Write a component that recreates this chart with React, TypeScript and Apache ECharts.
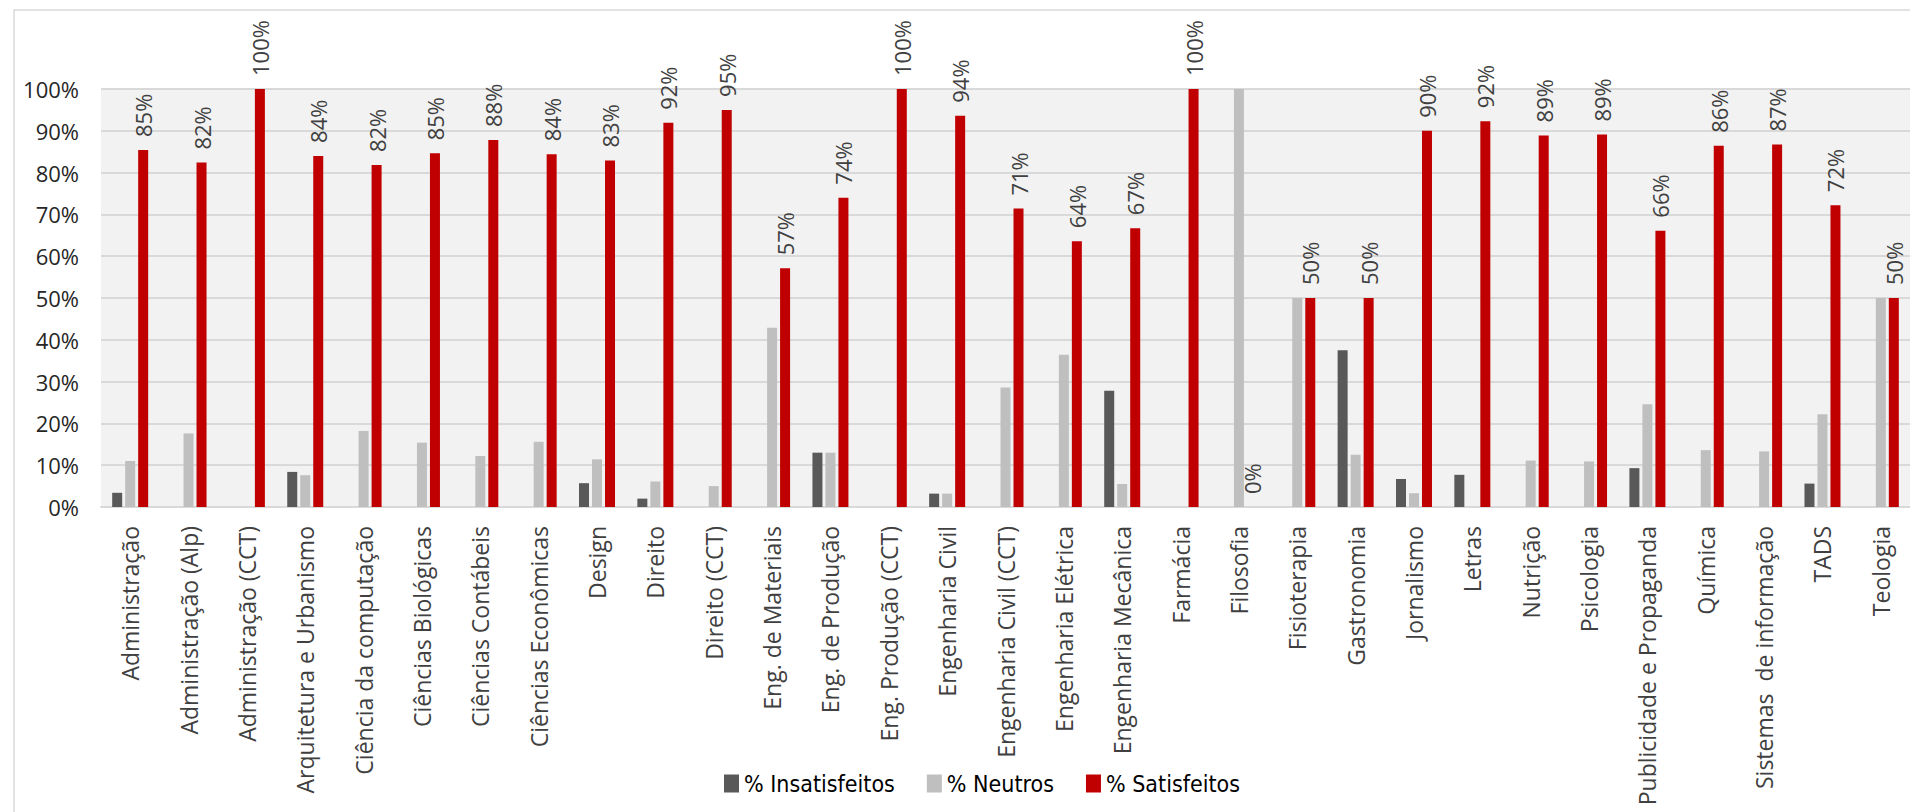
import React, { useEffect, useRef } from "react";
import * as echarts from "echarts";

const categories = [
  "Administração", "Administração (Alp)", "Administração (CCT)", "Arquitetura e Urbanismo",
  "Ciência da computação", "Ciências Biológicas", "Ciências Contábeis", "Ciências Econômicas",
  "Design", "Direito", "Direito (CCT)", "Eng. de Materiais", "Eng. de Produção",
  "Eng. Produção (CCT)", "Engenharia Civil", "Engenharia Civil (CCT)", "Engenharia Elétrica",
  "Engenharia Mecânica", "Farmácia", "Filosofia", "Fisioterapia", "Gastronomia", "Jornalismo",
  "Letras", "Nutrição", "Psicologia", "Publicidade e Propaganda", "Química",
  "Sistemas  de informação", "TADS", "Teologia",
];

const insatisfeitos = [3.4, 0, 0, 8.4, 0, 0, 0, 0, 5.7, 2.0, 0, 0, 13.0, 0, 3.2, 0, 0, 27.8, 0, 0, 0, 37.5, 6.7, 7.7, 0, 0, 9.3, 0, 0, 5.6, 0];
const neutros = [11.0, 17.6, 0, 7.6, 18.2, 15.4, 12.2, 15.6, 11.4, 6.1, 5.0, 42.9, 13.0, 0, 3.2, 28.6, 36.4, 5.5, 0, 100, 50, 12.5, 3.3, 0, 11.1, 10.9, 24.6, 13.6, 13.3, 22.2, 50];
const satisfeitos = [85.4, 82.4, 100, 84.0, 81.8, 84.6, 87.8, 84.4, 82.9, 91.9, 95.0, 57.1, 74.0, 100, 93.6, 71.4, 63.6, 66.7, 100, 0, 50, 50, 90.0, 92.3, 88.9, 89.1, 66.1, 86.4, 86.7, 72.2, 50];

const seriesNames = ["% Insatisfeitos", "% Neutros", "% Satisfeitos"];
const seriesColors = ["#595959", "#bfbfbf", "#c00000"];

const textFont = "'Open Sans', 'Noto Sans', sans-serif";
const legendFont = "'Liberation Sans Narrow', 'DejaVu Sans Condensed', sans-serif";

export default function App() {
  const ref = useRef<HTMLDivElement>(null);
  useEffect(() => {
    if (!ref.current) return;
    const chart = echarts.init(ref.current, undefined, { renderer: "svg" });
    const values = [insatisfeitos, neutros, satisfeitos];
    chart.setOption({
      animation: false,
      backgroundColor: "#ffffff",
      graphic: [
        {
          type: "rect",
          shape: { x: 14, y: 10, width: 1960, height: 900 },
          style: { fill: "none", stroke: "#d9d9d9", lineWidth: 1.5 },
          silent: true,
          z: -1,
        },
      ],
      grid: {
        left: 101,
        right: 0,
        top: 89,
        bottom: 305,
        show: true,
        backgroundColor: "#f2f2f2",
        borderWidth: 0,
      },
      legend: {
        left: 719,
        top: 767,
        itemWidth: 15,
        itemHeight: 18,
        itemGap: 32,
        icon: "rect",
        textStyle: { fontFamily: legendFont, fontSize: 23, color: "#000000" },
        data: seriesNames,
      },
      xAxis: {
        type: "category",
        data: categories,
        axisLine: { show: true, lineStyle: { color: "#d9d9d9", width: 2 } },
        axisTick: { show: false },
        axisLabel: {
          rotate: 90,
          interval: 0,
          margin: 19,
          fontFamily: textFont,
          fontSize: 23,
          color: "#404040",
        },
      },
      yAxis: {
        type: "value",
        min: 0,
        max: 100,
        interval: 10,
        axisLine: { show: false },
        axisTick: { show: false },
        splitLine: { lineStyle: { color: "#d9d9d9", width: 2 } },
        axisLabel: {
          formatter: "{value}%",
          margin: 22,
          fontFamily: textFont,
          fontSize: 22,
          color: "#262626",
        },
      },
      series: seriesNames.map((name, i) => ({
        name,
        type: "bar",
        data: values[i],
        barWidth: 10,
        barGap: "30%",
        itemStyle: { color: seriesColors[i] },
        label:
          i === 2
            ? {
                show: true,
                position: "top",
                rotate: 90,
                align: "left",
                verticalAlign: "middle",
                distance: 13,
                fontFamily: textFont,
                fontSize: 22,
                color: "#404040",
                formatter: (p: any) => Math.round(p.value) + "%",
              }
            : { show: false },
      })),
    });
    return () => chart.dispose();
  }, []);
  return (
    <div
      ref={ref}
      style={{ position: "fixed", left: 0, top: 0, width: 1910, height: 812 }}
    />
  );
}
